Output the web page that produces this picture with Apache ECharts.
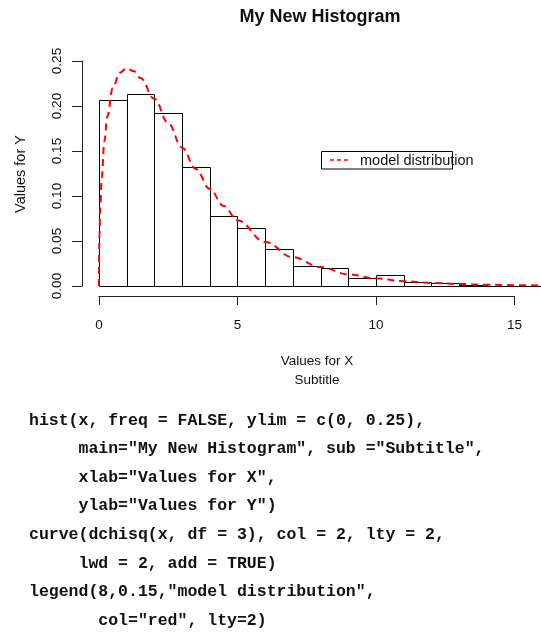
<!DOCTYPE html>
<html>
<head>
<meta charset="utf-8">
<script src="https://cdn.jsdelivr.net/npm/echarts@6/dist/echarts.min.js"></script>
<style>
  html, body { margin: 0; padding: 0; background: #fff; }
  #main { width: 541px; height: 632px; }
</style>
</head>
<body>
<div id="main"></div>
<script>
// histogram bins (density, freq = FALSE)
var binStarts = [0, 1, 2, 3, 4, 5, 6, 7, 8, 9, 10, 11, 12, 13, 14, 15];
var binEnds = [1, 2, 3, 4, 5, 6, 7, 8, 9, 10, 11, 12, 13, 14, 15, 16];
var binDensity = [0.207, 0.213, 0.192, 0.132, 0.078, 0.064, 0.041, 0.022, 0.020, 0.009, 0.012, 0.005, 0.003, 0.001, 0, 0.0005];

// model distribution curve
var curveX = [0, 0.01, 0.02, 0.05, 0.1, 0.2, 0.3, 0.5, 0.75, 1, 1.25, 1.5, 2, 2.5, 3, 3.5, 4, 4.5, 5, 6, 7, 8, 9, 10, 11, 12, 13, 14, 15, 16];
var curveY = [0, 0.040, 0.056, 0.087, 0.120, 0.161, 0.188, 0.220, 0.237, 0.242, 0.239, 0.231, 0.208, 0.181, 0.154, 0.130, 0.108, 0.089, 0.073, 0.049, 0.032, 0.021, 0.013, 0.0085, 0.0054, 0.0034, 0.0022, 0.0014, 0.0009, 0.0005];

var xTicks = [0, 5, 10, 15];
var yTicks = [0, 0.05, 0.10, 0.15, 0.20, 0.25];

var codeLines = [
  'hist(x, freq = FALSE, ylim = c(0, 0.25),',
  '     main="My New Histogram", sub ="Subtitle",',
  '     xlab="Values for X",',
  '     ylab="Values for Y")',
  'curve(dchisq(x, df = 3), col = 2, lty = 2,',
  '     lwd = 2, add = TRUE)',
  'legend(8,0.15,"model distribution",',
  '       col="red", lty=2)'
];

var sans = '"Liberation Sans", Arial, sans-serif';
var ink = '#111';

var histData = binStarts.map(function (s, i) {
  return [s, binEnds[i], binDensity[i]];
});
var curveData = curveX.map(function (x, i) {
  return [x, curveY[i]];
});

var myChart = echarts.init(document.getElementById('main'), null, { renderer: 'canvas' });

var graphics = [];
codeLines.forEach(function (line, i) {
  graphics.push({
    type: 'text',
    x: 29,
    y: 420.5 + i * 28.6,
    style: {
      text: line,
      font: 'bold 16.5px "Liberation Mono", "Courier New", monospace',
      fill: ink,
      align: 'left',
      verticalAlign: 'middle'
    }
  });
});

// axis titles
graphics.push({
  type: 'text', x: 317, y: 361,
  style: { text: 'Values for X', font: '13.5px ' + sans, fill: ink, align: 'center', verticalAlign: 'middle' }
});
graphics.push({
  type: 'text', x: 317, y: 380,
  style: { text: 'Subtitle', font: '13.5px ' + sans, fill: ink, align: 'center', verticalAlign: 'middle' }
});
graphics.push({
  type: 'text', x: 21, y: 174, rotation: Math.PI / 2,
  style: { text: 'Values for Y', font: '14.5px ' + sans, fill: ink, align: 'center', verticalAlign: 'middle' }
});

// legend box like R's legend()
graphics.push({
  type: 'group',
  children: [
    {
      type: 'rect',
      shape: { x: 321.5, y: 151.5, width: 131, height: 17.5 },
      style: { fill: '#fff', stroke: '#000', lineWidth: 1 }
    },
    {
      type: 'line',
      shape: { x1: 330, y1: 160, x2: 350, y2: 160 },
      style: { stroke: '#ff0000', lineWidth: 1.5, lineDash: [4, 3] }
    },
    {
      type: 'text', x: 360, y: 161,
      style: { text: 'model distribution', font: '14.5px ' + sans, fill: ink, align: 'left', verticalAlign: 'middle' }
    }
  ]
});

var option = {
  animation: false,
  backgroundColor: '#fff',
  title: {
    text: 'My New Histogram',
    left: 320,
    top: 8,
    padding: 0,
    textAlign: 'center',
    textStyle: { fontFamily: sans, fontSize: 18, fontWeight: 'bold', color: ink }
  },
  grid: [
    // plot region
    { left: 82, top: 52, width: 459, height: 243 },
    // x axis (0..15)
    { left: 98.9, top: 61, width: 415.5, height: 235 },
    // y axis (0..0.25)
    { left: 82, top: 61, width: 100, height: 225 }
  ],
  xAxis: [
    { gridIndex: 0, type: 'value', min: -0.61, max: 15.96, show: false },
    {
      gridIndex: 1, type: 'value', min: xTicks[0], max: xTicks[xTicks.length - 1], interval: 5,
      axisLine: { show: true, lineStyle: { color: '#222', width: 1 } },
      axisTick: { show: true, length: 9, lineStyle: { color: '#222' } },
      axisLabel: { fontFamily: sans, fontSize: 13.5, color: ink, margin: 22 },
      splitLine: { show: false }
    },
    { gridIndex: 2, type: 'value', show: false }
  ],
  yAxis: [
    { gridIndex: 0, type: 'value', min: -0.01, max: 0.26, show: false },
    { gridIndex: 1, type: 'value', show: false },
    {
      gridIndex: 2, type: 'value', min: yTicks[0], max: yTicks[yTicks.length - 1], interval: 0.05,
      axisLine: { show: true, lineStyle: { color: '#222', width: 1 } },
      axisTick: { show: true, length: 10, lineStyle: { color: '#222' } },
      axisLabel: {
        fontFamily: sans, fontSize: 13.5, color: ink, rotate: 90, margin: 18,
        formatter: function (v) { return v.toFixed(2); }
      },
      splitLine: { show: false }
    }
  ],
  series: [
    {
      name: 'histogram',
      type: 'custom',
      xAxisIndex: 0,
      yAxisIndex: 0,
      clip: true,
      data: histData,
      renderItem: function (params, api) {
        var p0 = api.coord([api.value(0), 0]);
        var p1 = api.coord([api.value(1), api.value(2)]);
        var x0 = Math.round(p0[0]) + 0.5;
        var x1 = Math.round(p1[0]) + 0.5;
        var yb = Math.round(p0[1]) + 0.5;
        var yt = Math.round(p1[1]) + 0.5;
        return {
          type: 'rect',
          shape: { x: x0, y: yt, width: x1 - x0, height: yb - yt },
          style: { fill: '#fff', stroke: '#000', lineWidth: 1 }
        };
      }
    },
    {
      name: 'model distribution',
      type: 'line',
      xAxisIndex: 0,
      yAxisIndex: 0,
      data: curveData,
      showSymbol: false,
      smooth: 0.4,
      smoothMonotone: 'x',
      clip: true,
      z: 5,
      lineStyle: { color: '#ff0000', width: 2, type: [7, 5] }
    }
  ]
};

myChart.setOption(option);
myChart.setOption({ graphic: graphics });
</script>
</body>
</html>
